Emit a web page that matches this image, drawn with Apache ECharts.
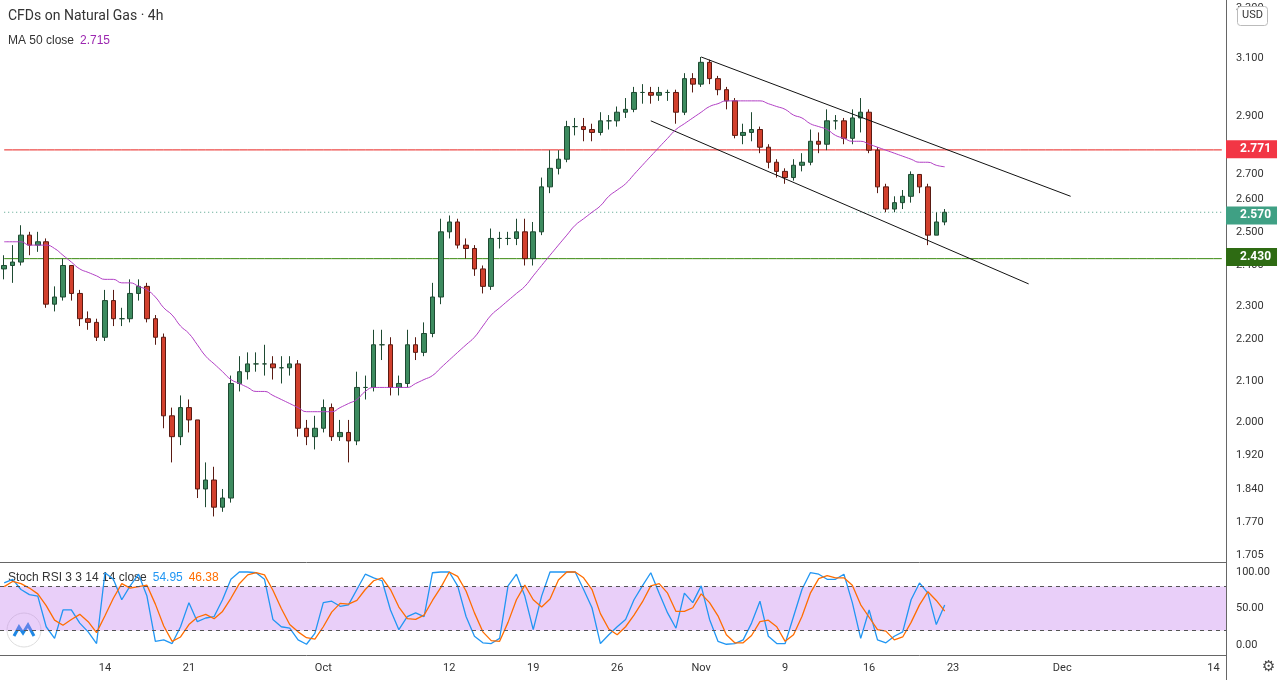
<!DOCTYPE html>
<html>
  <head>
    <title>CFDs on Natural Gas 4h</title>
    <style>
      html, body { margin: 0; padding: 0; width: 100%; height: 100%; background: #fff; }
      #container { width: 1280px; height: 680px; }
    </style>
  </head>
  <body>
    <div id="container"></div>
    <script src="https://cdn.jsdelivr.net/npm/echarts@6/dist/echarts.min.js"></script>
    <script type="text/javascript">

      // 4h candles, one per slot
      const closes = [
        2.41,2.42,2.50,2.47,2.48,2.30,2.32,2.41,2.33,2.26,
        2.25,2.21,2.31,2.26,2.26,2.33,2.35,2.26,2.21,2.01,
        1.96,2.03,2.00,1.84,1.86,1.80,1.82,2.09,2.12,2.14,
        2.14,2.14,2.13,2.13,2.14,1.98,1.96,1.98,2.03,1.96,
        1.97,1.95,2.08,2.08,2.19,2.19,2.08,2.09,2.19,2.17,
        2.22,2.32,2.51,2.54,2.47,2.46,2.40,2.35,2.49,2.49,
        2.49,2.51,2.43,2.51,2.65,2.71,2.74,2.85,2.85,2.84,
        2.83,2.87,2.87,2.90,2.91,2.97,2.97,2.96,2.97,2.97,
        2.90,3.02,3.00,3.08,3.02,2.98,2.94,2.82,2.83,2.84,
        2.78,2.73,2.70,2.68,2.72,2.73,2.80,2.79,2.87,2.87,
        2.81,2.88,2.90,2.77,2.65,2.58,2.60,2.62,2.69,2.65,
        2.50,2.54,2.57
      ];
      const highs = [
        2.44,2.47,2.53,2.51,2.51,2.49,2.35,2.43,2.41,2.34,
        2.28,2.26,2.34,2.34,2.29,2.37,2.37,2.36,2.27,2.22,
        2.03,2.06,2.05,2.00,1.90,1.89,1.84,2.11,2.16,2.17,
        2.17,2.19,2.16,2.16,2.16,2.15,2.00,2.01,2.05,2.04,
        2.00,2.00,2.12,2.11,2.23,2.23,2.21,2.11,2.23,2.21,
        2.25,2.36,2.55,2.56,2.55,2.49,2.47,2.41,2.52,2.51,
        2.51,2.55,2.55,2.54,2.68,2.77,2.77,2.87,2.88,2.88,
        2.86,2.90,2.89,2.92,2.95,2.99,3.00,2.99,2.99,2.98,
        2.98,3.04,3.04,3.10,3.09,3.03,2.99,2.95,2.86,2.90,
        2.85,2.79,2.74,2.71,2.74,2.76,2.84,2.83,2.91,2.89,
        2.88,2.91,2.95,2.91,2.78,2.66,2.62,2.64,2.70,2.69,
        2.66,2.57,2.58
      ];
      const lows = [
        2.37,2.36,2.41,2.44,2.45,2.29,2.28,2.31,2.31,2.24,
        2.23,2.20,2.20,2.24,2.24,2.25,2.31,2.25,2.19,1.98,
        1.90,1.94,1.97,1.82,1.80,1.78,1.79,1.81,2.07,2.10,
        2.12,2.11,2.10,2.09,2.11,1.96,1.94,1.93,1.97,1.95,
        1.95,1.90,1.94,2.05,2.07,2.15,2.06,2.06,2.08,2.15,
        2.16,2.21,2.30,2.49,2.46,2.43,2.38,2.33,2.34,2.46,
        2.47,2.47,2.41,2.41,2.50,2.63,2.69,2.73,2.82,2.80,
        2.80,2.82,2.84,2.85,2.88,2.90,2.93,2.93,2.94,2.94,
        2.86,2.89,2.97,2.99,3.00,2.96,2.91,2.81,2.79,2.80,
        2.76,2.71,2.68,2.66,2.67,2.70,2.72,2.76,2.77,2.84,
        2.79,2.79,2.83,2.76,2.63,2.57,2.57,2.58,2.60,2.63,
        2.47,2.50,2.53
      ];
      const firstOpen = 2.40;

      const ma50 = [
        2.48,2.48,2.48,2.47,2.47,2.47,2.46,2.44,2.42,2.40,
        2.39,2.38,2.37,2.37,2.36,2.36,2.35,2.34,2.32,2.29,
        2.27,2.24,2.22,2.19,2.16,2.14,2.12,2.10,2.09,2.08,
        2.07,2.07,2.06,2.05,2.04,2.03,2.02,2.02,2.02,2.02,
        2.03,2.04,2.05,2.07,2.08,2.08,2.08,2.08,2.08,2.09,
        2.10,2.11,2.13,2.15,2.17,2.19,2.21,2.24,2.27,2.29,
        2.31,2.33,2.35,2.38,2.41,2.44,2.47,2.50,2.53,2.55,
        2.57,2.59,2.62,2.64,2.66,2.69,2.72,2.75,2.78,2.81,
        2.84,2.86,2.88,2.90,2.92,2.93,2.94,2.94,2.94,2.94,
        2.94,2.93,2.92,2.91,2.89,2.88,2.86,2.85,2.84,2.82,
        2.81,2.80,2.80,2.79,2.78,2.77,2.76,2.75,2.74,2.73,
        2.73,2.72,2.715
      ];

      const stochK = [
        85,90,76,69,67,25,9,48,48,30,
        18,2,99,90,62,81,97,67,5,7,
        2,25,58,32,37,39,62,90,100,100,
        99,90,35,25,23,7,1,16,58,60,
        53,55,76,97,92,88,48,21,39,44,
        39,99,100,100,81,39,12,3,2,9,
        81,97,67,21,67,100,100,100,100,76,
        51,2,14,25,35,62,81,99,71,44,
        23,71,58,81,35,5,1,2,7,30,
        60,12,2,2,39,76,99,97,90,90,
        97,58,9,48,7,3,12,18,62,85,
        71,28,54.95
      ];
      const stochD = [
        80,87,84,78,70,54,34,27,35,42,
        32,17,40,64,84,78,80,82,56,26,
        5,11,28,38,42,36,46,64,84,96,
        99,96,75,50,28,18,10,8,25,45,
        57,56,61,76,88,92,76,52,36,35,
        41,61,79,100,94,74,44,18,6,5,
        31,62,82,62,52,63,89,100,100,92,
        76,43,22,14,25,41,59,81,84,71,
        46,46,51,70,58,40,14,3,3,13,
        32,34,25,5,14,39,71,91,95,92,
        92,82,55,38,21,19,7,11,31,55,
        73,61,46.38
      ];

      const priceTicks = [1.705, 1.770, 1.840, 1.920, 2.000, 2.100, 2.200, 2.300, 2.400, 2.500, 2.600, 2.700, 2.900, 3.100, 3.300];
      const dateLabels = { 12: '14', 22: '21', 38: 'Oct', 53: '12', 63: '19', 73: '26', 83: 'Nov', 93: '9', 103: '16', 113: '23', 126: 'Dec', 144: '14' };
      const slotCount = 146;

      // channel: [startIdx, startPrice, endIdx, endPrice]
      const upperChannel = [83, 3.10, 127, 2.62];
      const lowerChannel = [77, 2.87, 122, 2.357];
      const resistance = 2.771, support = 2.430, lastPrice = 2.570;

      const L = Math.log;
      const cats = Array.from({ length: slotCount }, (_, i) => String(i));
      const candles = closes.map((c, i) => {
        const o = i === 0 ? firstOpen : closes[i - 1];
        return [L(o), L(c), L(lows[i]), L(highs[i])];
      });

      // horizontal level across the whole pane, with a price tag on the axis
      const levelSeries = (p, line, bg, type) => ({
        type: 'line', xAxisIndex: 0, yAxisIndex: 0, z: 3, showSymbol: false, silent: true,
        data: cats.map(() => L(p)),
        lineStyle: { color: line, width: 1, type: type },
        markLine: {
          symbol: 'none', silent: true, animation: false,
          lineStyle: { color: 'rgba(0,0,0,0)', width: 0 },
          label: { show: true, position: 'end', distance: 0, color: '#fff', fontSize: 12, fontWeight: 'bold',
                   backgroundColor: bg, padding: [3, 6, 3, 14], formatter: p.toFixed(3) },
          data: [{ yAxis: L(p) }]
        }
      });

      const chart = echarts.init(document.getElementById('container'));
      chart.setOption({
        animation: false,
        textStyle: { fontFamily: 'Roboto, sans-serif' },
        grid: [
          { left: 0, right: 54, top: 0, height: 562 },
          { left: 0, right: 54, top: 572, height: 73 }
        ],
        xAxis: [
          { type: 'category', data: cats, gridIndex: 0, boundaryGap: true, axisLine: { show: false }, axisTick: { show: false }, axisLabel: { show: false } },
          { type: 'category', data: cats, gridIndex: 1, axisLine: { show: false }, axisTick: { show: false },
            axisLabel: { color: '#333', fontSize: 11, margin: 18, interval: i => dateLabels[i] !== undefined, formatter: (v, i) => dateLabels[i] || '' } }
        ],
        yAxis: [
          { type: 'value', gridIndex: 0, min: 0.5216, max: 1.2002, position: 'right', axisLabel: { show: false }, splitLine: { show: false }, axisLine: { show: false } },
          { type: 'value', gridIndex: 1, min: 0, max: 100, interval: 50, position: 'right', splitLine: { show: false },
            axisLine: { show: false }, axisTick: { show: false },
            axisLabel: { color: '#333', fontSize: 11, margin: 10, formatter: v => v.toFixed(2) } }
        ],
        series: [
          {
            type: 'line', xAxisIndex: 0, yAxisIndex: 0, data: [],
            markLine: {
              symbol: 'none', silent: true, animation: false,
              lineStyle: { color: 'rgba(0,0,0,0)', width: 0 },
              label: { show: true, position: 'end', distance: 10, color: '#333', fontSize: 11 },
              data: priceTicks.map(p => ({ yAxis: L(p), label: { formatter: p.toFixed(3) } }))
            }
          },
          {
            type: 'line', xAxisIndex: 0, yAxisIndex: 0, data: [],
            markLine: {
              symbol: 'none', silent: true, animation: false, label: { show: false },
              lineStyle: { color: '#111', width: 1, type: 'solid' },
              data: [
                [{ coord: [upperChannel[0], L(upperChannel[1])] }, { coord: [upperChannel[2], L(upperChannel[3])] }],
                [{ coord: [lowerChannel[0], L(lowerChannel[1])] }, { coord: [lowerChannel[2], L(lowerChannel[3])] }]
              ]
            }
          },
          levelSeries(resistance, '#e8201c', '#f23645', 'solid'),
          levelSeries(support, '#3a8a10', '#2e6b13', 'solid'),
          levelSeries(lastPrice, '#4e9f86', '#3fa084', [1, 3]),
          {
            type: 'candlestick', xAxisIndex: 0, yAxisIndex: 0, data: candles, barWidth: 5, z: 4,
            itemStyle: { color: '#3d8b5f', color0: '#d2402d', borderColor: '#1e4a32', borderColor0: '#5a1a12', borderWidth: 1 }
          },
          {
            type: 'line', xAxisIndex: 0, yAxisIndex: 0, data: ma50.map(L), showSymbol: false, smooth: true, z: 5,
            lineStyle: { color: '#b13fc4', width: 1 }
          },
          {
            type: 'line', xAxisIndex: 1, yAxisIndex: 1, data: stochK, showSymbol: false, clip: false,
            lineStyle: { color: '#2196f3', width: 1.3 },
            markArea: { silent: true, itemStyle: { color: 'rgba(196,130,240,0.38)' }, data: [[{ yAxis: 20 }, { yAxis: 80 }]] },
            markLine: { symbol: 'none', silent: true, label: { show: false },
              lineStyle: { color: '#555', type: [4, 4], width: 1 }, data: [{ yAxis: 80 }, { yAxis: 20 }] }
          },
          {
            type: 'line', xAxisIndex: 1, yAxisIndex: 1, data: stochD, showSymbol: false, clip: false,
            lineStyle: { color: '#ff6d00', width: 1.3 }
          }
        ],
        graphic: [
          { type: 'line', shape: { x1: 0, y1: 562.5, x2: 1226, y2: 562.5 }, style: { stroke: '#666', lineWidth: 1 } },
          { type: 'line', shape: { x1: 0, y1: 655.5, x2: 1226, y2: 655.5 }, style: { stroke: '#666', lineWidth: 1 } },
          { type: 'line', shape: { x1: 1226.5, y1: 0, x2: 1226.5, y2: 680 }, style: { stroke: '#666', lineWidth: 1 } },
          { type: 'text', left: 8, top: 9, style: { text: 'CFDs on Natural Gas · 4h', fill: '#333', font: '14px Roboto, sans-serif' } },
          { type: 'text', left: 8, top: 35, style: { rich: { a: { fill: '#333', fontSize: 12 }, b: { fill: '#9c27b0', fontSize: 12 } },
            text: '{a|MA 50 close}  {b|2.715}', font: '12px Roboto, sans-serif' } },
          { type: 'rect', left: 6, top: 571, shape: { width: 222, height: 16 }, style: { fill: 'rgba(255,255,255,0.7)' } },
          { type: 'text', left: 8, top: 572, style: { rich: { a: { fill: '#333', fontSize: 12 }, b: { fill: '#2196f3', fontSize: 12 }, c: { fill: '#ff6d00', fontSize: 12 } },
            text: '{a|Stoch RSI 3 3 14 14 close}  {b|54.95}  {c|46.38}', font: '12px Roboto, sans-serif' } },
          { type: 'rect', left: 1237, top: 6, z: 100, shape: { width: 30, height: 19, r: 3 }, style: { fill: '#fff', stroke: '#bbb' } },
          { type: 'text', left: 1242, top: 10, z: 101, style: { text: 'USD', fill: '#333', font: '11px Roboto, sans-serif' } },
          { type: 'circle', shape: { cx: 24, cy: 630, r: 17 }, style: { fill: '#fff', stroke: '#ddd' } },
          { type: 'polyline', shape: { points: [[14, 636], [19, 627], [23, 633], [28, 625], [34, 636]] }, style: { stroke: '#1e88e5', lineWidth: 3, fill: null } },
          { type: 'text', left: 1262, top: 660, style: { text: '⚙', fill: '#444', font: '15px DejaVu Sans' } }
        ]
      });
    </script>
  </body>
</html>
